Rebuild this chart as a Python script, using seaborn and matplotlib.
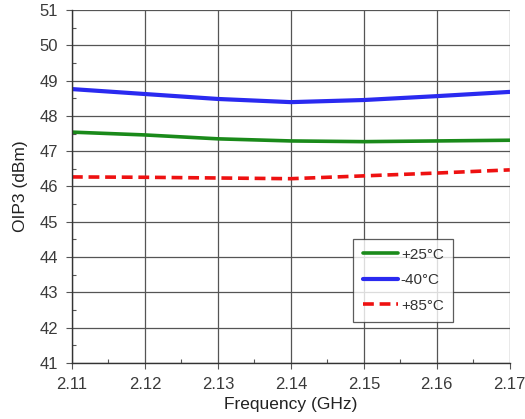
import matplotlib
matplotlib.use("Agg")
import matplotlib.pyplot as plt
import seaborn as sns
import pandas as pd
from matplotlib.ticker import MultipleLocator, FormatStrFormatter

freq_ghz = [2.11, 2.12, 2.13, 2.14, 2.15, 2.16, 2.17]
oip3_p25 = [47.54, 47.46, 47.35, 47.29, 47.27, 47.29, 47.31]
oip3_m40 = [48.76, 48.62, 48.48, 48.39, 48.45, 48.56, 48.68]
oip3_p85 = [46.27, 46.26, 46.24, 46.22, 46.30, 46.38, 46.47]
series_labels = ["+25°C", "-40°C", "+85°C"]

sns.set_style("white")
plt.rcParams["font.family"] = ["Liberation Sans", "DejaVu Sans"]

df = pd.DataFrame({
    "freq": freq_ghz * 3,
    "oip3": oip3_p25 + oip3_m40 + oip3_p85,
    "temp": [series_labels[0]] * 7 + [series_labels[1]] * 7 + [series_labels[2]] * 7,
})

fig = plt.figure(figsize=(5.25, 4.19), dpi=100)
ax = fig.add_axes([0.137, 0.134, 0.834, 0.842])

styles = {
    series_labels[0]: dict(color="#1a8a1a", lw=2.6, ls="-"),
    series_labels[1]: dict(color="#2a2af0", lw=3.0, ls="-"),
    series_labels[2]: dict(color="#ee1111", lw=2.6, ls=(0, (3, 1.6))),
}
for name in series_labels:
    sub = df[df["temp"] == name]
    st = styles[name]
    sns.lineplot(data=sub, x="freq", y="oip3", ax=ax, label=name,
                 color=st["color"], linewidth=st["lw"], linestyle=st["ls"])

ax.set_xlim(2.11, 2.17)
ax.set_ylim(41, 51)
ax.xaxis.set_major_locator(MultipleLocator(0.01))
ax.xaxis.set_minor_locator(MultipleLocator(0.005))
ax.yaxis.set_major_locator(MultipleLocator(1))
ax.yaxis.set_minor_locator(MultipleLocator(0.5))
ax.xaxis.set_major_formatter(FormatStrFormatter("%.2f"))
ax.yaxis.set_major_formatter(FormatStrFormatter("%d"))

ax.grid(True, which="major", color="#555555", linewidth=0.9)
ax.tick_params(axis="both", which="major", direction="out", length=4, width=0.8,
               labelsize=12, labelcolor="#3a3a3a", color="#555555", pad=6,
               left=True, bottom=True)
ax.tick_params(axis="both", which="minor", direction="in", length=3, width=0.8,
               color="#555555", left=True, bottom=True)

for side in ["top", "right"]:
    ax.spines[side].set_visible(False)
for side in ["left", "bottom"]:
    ax.spines[side].set_color("#333333")
    ax.spines[side].set_linewidth(1.0)

ax.set_xlabel("Frequency (GHz)", fontsize=12.5, color="#222222", labelpad=4)
ax.set_ylabel("OIP3 (dBm)", fontsize=12.5, color="#222222", labelpad=8)

leg = ax.legend(loc="upper left", bbox_to_anchor=(0.643, 0.352), frameon=True,
                fancybox=False, edgecolor="#333333", fontsize=11,
                handlelength=2.3, labelspacing=0.75, borderpad=0.6,
                borderaxespad=0, handletextpad=0.2)
leg.get_frame().set_linewidth(0.9)
for t in leg.get_texts():
    t.set_color("#333333")

fig.savefig("out.png", dpi=100, facecolor="white")
